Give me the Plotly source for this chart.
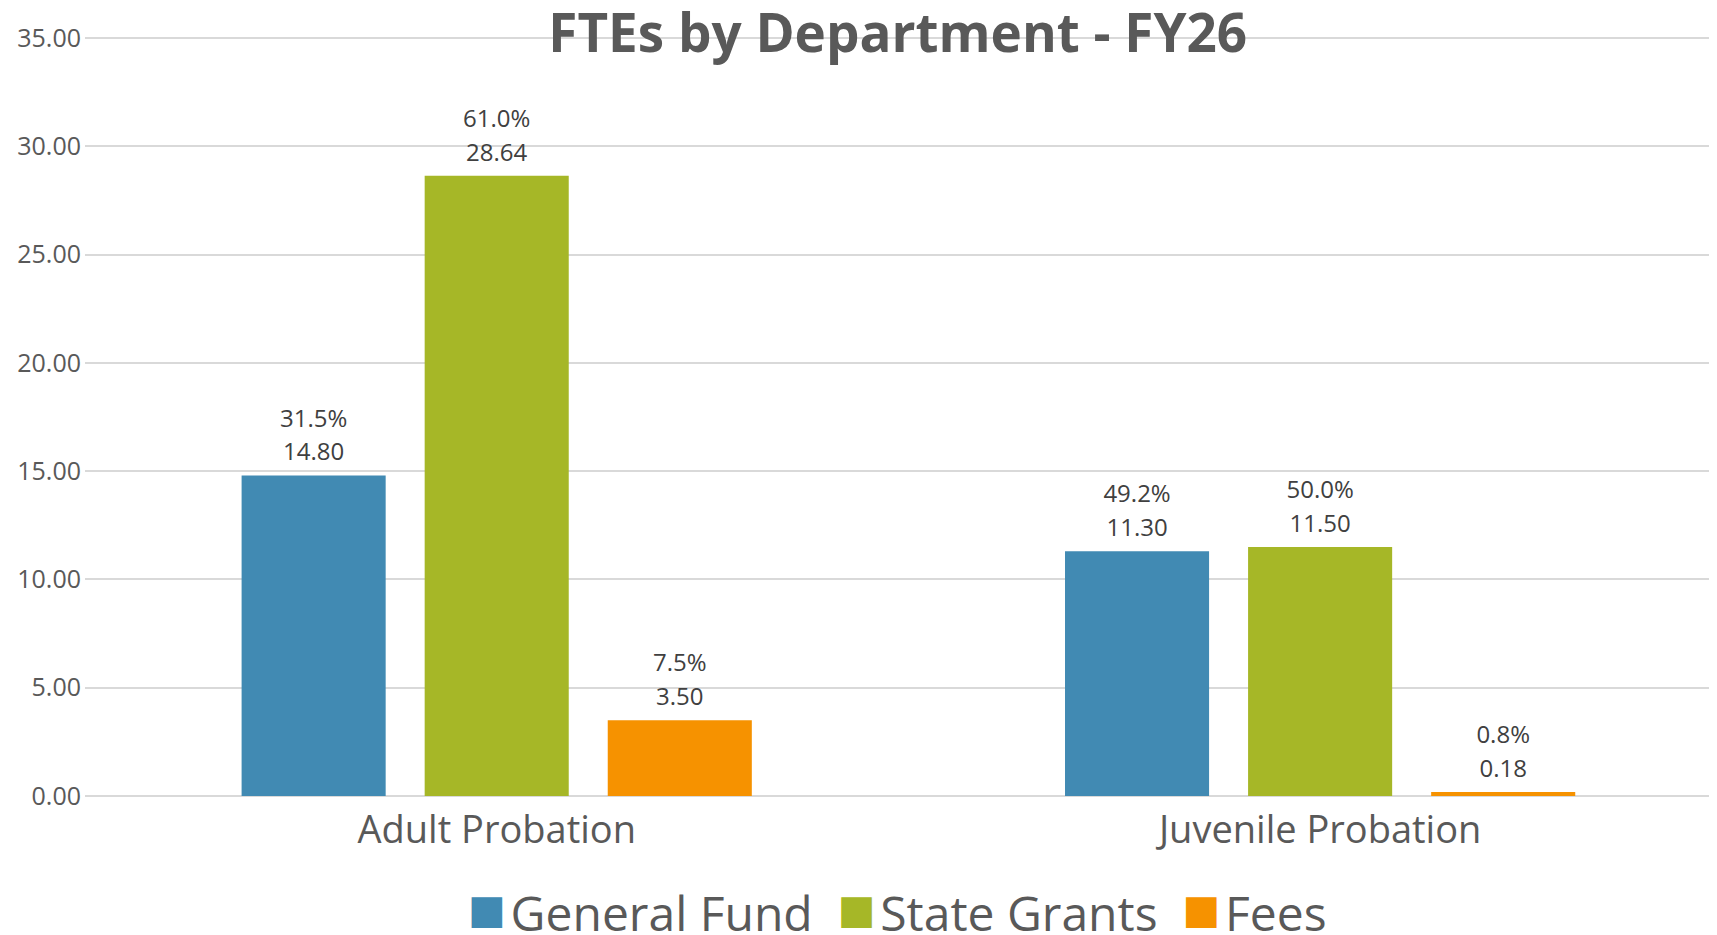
import plotly.graph_objects as go

# ---- data ----
categories = ["Adult Probation", "Juvenile Probation"]
series_names = ["General Fund", "State Grants", "Fees"]
general_fund = [14.80, 11.30]
state_grants = [28.64, 11.50]
fees = [3.50, 0.18]
general_fund_pct = [31.5, 49.2]
state_grants_pct = [61.0, 50.0]
fees_pct = [7.5, 0.8]
y_ticks = [0, 5, 10, 15, 20, 25, 30, 35]

colors = ["#418AB3", "#A6B727", "#F69200"]
values = [general_fund, state_grants, fees]
pcts = [general_fund_pct, state_grants_pct, fees_pct]

label_font = dict(family="Open Sans", size=24, color="#404040")

fig = go.Figure()
for i, (name, vals, pc, col) in enumerate(zip(series_names, values, pcts, colors)):
    grp = "g%d" % i
    fig.add_trace(go.Bar(
        x=categories, y=vals, name=name,
        marker=dict(color=col, line=dict(width=0)),
        offsetgroup=grp,
        showlegend=False,
        hovertemplate="%{x}<br>" + name + ": %{y:.2f}<extra></extra>",
    ))
    # value label (just above the bar)
    fig.add_trace(go.Scatter(
        x=categories, y=vals,
        mode="markers+text",
        text=["%.2f" % v for v in vals],
        textposition="top center",
        textfont=label_font,
        marker=dict(size=13, opacity=0, color=col),
        offsetgroup=grp,
        cliponaxis=False,
        showlegend=False, hoverinfo="skip",
    ))
    # percentage label (line above the value)
    fig.add_trace(go.Scatter(
        x=categories, y=vals,
        mode="markers+text",
        text=["%.1f%%" % p for p in pc],
        textposition="top center",
        textfont=label_font,
        marker=dict(size=67, opacity=0, color=col),
        offsetgroup=grp,
        cliponaxis=False,
        showlegend=False, hoverinfo="skip",
    ))

# legend built as text (large square swatches like the reference)
sq = ("<span style='font-family:DejaVu Sans;font-size:40px;"
      "baseline-shift:8px;color:{c}'>\u25A0</span>")
gap = "\u00A0" * 2
legend_text = gap.join(sq.format(c=c) + "\u200A" + n for n, c in zip(series_names, colors))

fig.update_layout(
    width=1709, height=927,
    margin=dict(l=77, r=0, t=28, b=139),
    paper_bgcolor="white", plot_bgcolor="white",
    font=dict(family="Open Sans", color="#595959"),
    title=dict(
        text="<b>FTEs by Department - FY26</b>",
        font=dict(family="Open Sans", size=53, color="#595959"),
        x=0.498, xref="paper", xanchor="center",
        y=0.9725, yref="container", yanchor="middle",
    ),
    barmode="group",
    bargap=0.333,
    bargroupgap=0.213,
    scattermode="group",
    scattergap=0.333,
    xaxis=dict(
        type="category",
        range=[-0.5, 1.482],
        showgrid=False, showline=False, zeroline=False,
        ticks="", ticklabelstandoff=8,
        tickfont=dict(size=38, color="#595959"),
    ),
    yaxis=dict(
        range=[0, 35.1],
        tickvals=y_ticks,
        tickformat=".2f",
        showgrid=True, gridcolor="#D9D9D9", gridwidth=2,
        zeroline=True, zerolinecolor="#D9D9D9", zerolinewidth=2,
        showline=False,
        ticks="", ticklabelstandoff=3,
        tickfont=dict(size=25, color="#595959"),
    ),
    annotations=[dict(
        text=legend_text,
        xref="paper", yref="paper",
        x=0.5, y=0, xanchor="center", yanchor="top",
        xshift=-4, yshift=-82,
        showarrow=False,
        font=dict(family="Open Sans", size=48, color="#595959"),
    )],
)

fig.write_html("out.html")
